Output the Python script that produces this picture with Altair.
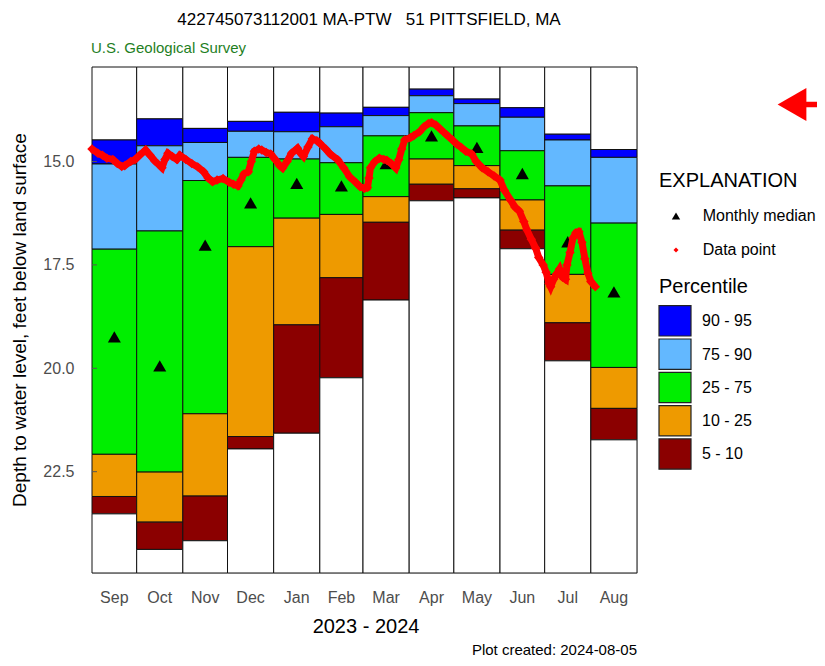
import altair as alt
import pandas as pd

FONT = "Liberation Sans"

# ---------------- data ----------------
months = ["Sep", "Oct", "Nov", "Dec", "Jan", "Feb", "Mar", "Apr", "May", "Jun", "Jul", "Aug"]
# days since 2023-09-01
month_start = [0, 30, 61, 91, 122, 153, 182, 213, 243, 274, 304, 335]
month_end = [30, 61, 91, 122, 153, 182, 213, 243, 274, 304, 335, 366]

# percentile depths (feet below land surface)
p95 = [14.48, 13.97, 14.20, 14.03, 13.81, 13.83, 13.69, 13.25, 13.49, 13.70, 14.34, 14.71]
p90 = [15.06, 14.62, 14.54, 14.27, 14.28, 14.16, 13.89, 13.41, 13.60, 13.93, 14.48, 14.90]
p75 = [17.12, 16.68, 15.46, 14.90, 14.94, 15.03, 14.38, 13.82, 14.14, 14.74, 15.59, 16.49]
p25 = [22.08, 22.51, 21.10, 17.06, 16.37, 16.28, 15.85, 14.94, 15.10, 15.93, 17.73, 19.98]
p10 = [23.10, 23.72, 23.09, 21.65, 18.95, 17.81, 16.47, 15.55, 15.66, 16.66, 18.90, 20.97]
p05 = [23.52, 24.38, 24.17, 21.95, 21.57, 20.23, 18.35, 15.95, 15.88, 17.11, 19.82, 21.73]
median = [19.24, 19.94, 17.02, 16.00, 15.53, 15.59, 15.05, 14.38, 14.66, 15.29, 16.94, 18.15]

# daily data points (days since 2023-09-01, depth)
point_day = [0, 4, 7, 10, 14, 17, 20, 22, 26, 29, 32, 36, 39, 42, 47, 49, 51, 54, 57, 59,
             63, 67, 71, 75, 78, 81, 84, 88, 92, 95, 98, 100, 102, 105, 107, 109, 112, 114,
             117, 120, 123, 126, 128, 131, 134, 138, 140, 142, 145, 148, 151, 153, 157, 160,
             165, 169, 173, 177, 180, 183, 185, 186, 187, 190, 193, 196, 198, 201, 204, 206,
             208, 210, 214, 216, 220, 223, 226, 228, 231, 234, 238, 242, 245, 248, 251, 255,
             258, 262, 266, 270, 274, 277, 281, 284, 287, 290, 292, 295, 298, 300, 303, 305,
             307, 308, 310, 312, 314, 316, 318, 319, 321, 323, 325, 327, 329, 331, 333, 335, 338]
point_depth = [14.70, 14.80, 14.85, 14.92, 14.95, 15.05, 15.12, 15.10, 15.00, 14.95, 14.85,
               14.72, 14.85, 14.98, 15.15, 14.95, 14.80, 14.88, 14.95, 14.85, 14.95, 15.05,
               15.13, 15.25, 15.40, 15.49, 15.45, 15.41, 15.50, 15.55, 15.59, 15.45, 15.30,
               15.25, 15.00, 14.75, 14.70, 14.72, 14.78, 14.82, 14.95, 15.10, 15.16, 15.00,
               14.80, 14.68, 14.80, 14.88, 14.65, 14.45, 14.50, 14.56, 14.70, 14.82, 14.96,
               15.15, 15.37, 15.50, 15.61, 15.65, 15.63, 15.40, 15.15, 15.00, 14.92, 14.95,
               14.97, 15.05, 15.16, 14.96, 14.70, 14.48, 14.42, 14.38, 14.28, 14.16, 14.08,
               14.06, 14.12, 14.22, 14.35, 14.48, 14.58, 14.66, 14.75, 14.82, 15.00, 15.15,
               15.25, 15.35, 15.45, 15.70, 15.93, 16.10, 16.20, 16.45, 16.65, 16.88, 17.10,
               17.32, 17.50, 17.68, 17.95, 18.03, 17.85, 17.72, 17.60, 17.80, 17.85, 17.50,
               17.20, 16.85, 16.72, 16.70, 16.95, 17.35, 17.70, 17.90, 18.03]

y_ticks = [15.0, 17.5, 20.0, 22.5]
Y_TOP, Y_BOTTOM = 12.715, 24.95
X_START, X_END = 0, 366

band_names = ["above", "90 - 95", "75 - 90", "25 - 75", "10 - 25", "5 - 10", "below"]
band_colors = ["#FFFFFF", "#0000FF", "#63B8FF", "#00EE00", "#EE9A00", "#8B0000", "#FFFFFF"]
legend_bands = ["90 - 95", "75 - 90", "25 - 75", "10 - 25", "5 - 10"]

# ---------------- tables ----------------
rows = []
for i, m in enumerate(months):
    edges = [Y_TOP, p95[i], p90[i], p75[i], p25[i], p10[i], p05[i], Y_BOTTOM]
    for j, b in enumerate(band_names):
        rows.append({"month": m, "start": month_start[i], "end": month_end[i],
                     "top": edges[j], "bottom": edges[j + 1], "band": b})
bars_df = pd.DataFrame(rows)

med_df = pd.DataFrame({"month": months,
                       "mid": [(a + b) / 2 for a, b in zip(month_start, month_end)],
                       "median": median})
pts_df = pd.DataFrame({"day": point_day, "depth": point_depth})
ticks_df = pd.DataFrame({"v": y_ticks})
one = pd.DataFrame({"a": [0]})

xs = alt.Scale(domain=[X_START, X_END], nice=False, zero=False)
ys = alt.Scale(domain=[Y_TOP, Y_BOTTOM], reverse=True, nice=False, zero=False)
band_scale = alt.Scale(domain=band_names, range=band_colors)

bars = alt.Chart(bars_df).mark_rect(stroke="#111111", strokeWidth=1).encode(
    x=alt.X("start:Q", scale=xs, axis=None),
    x2="end:Q",
    y=alt.Y("top:Q", scale=ys,
            axis=alt.Axis(values=y_ticks, format=".1f", ticks=False, domain=False, grid=False,
                          labelFontSize=16, labelColor="#4d4d4d", labelPadding=18,
                          labelFont=FONT, title=None)),
    y2="bottom:Q",
    color=alt.Color("band:N", scale=band_scale, legend=None),
)

tick_rules = alt.Chart(ticks_df).mark_rule(color="#555555", strokeWidth=1).encode(
    x=alt.value(0), x2=alt.value(5), y=alt.Y("v:Q", scale=ys))

line = alt.Chart(pts_df).mark_line(color="#FF0000", strokeWidth=7).encode(
    x=alt.X("day:Q", scale=xs), y=alt.Y("depth:Q", scale=ys))
dots = alt.Chart(pts_df).mark_point(shape="diamond", filled=True, size=90, color="#FF0000",
                                    opacity=1).encode(
    x=alt.X("day:Q", scale=xs), y=alt.Y("depth:Q", scale=ys))

meds = alt.Chart(med_df).mark_point(shape="triangle-up", filled=True, size=170, color="black",
                                    opacity=1).encode(
    x=alt.X("mid:Q", scale=xs), y=alt.Y("median:Q", scale=ys))

month_labels = alt.Chart(med_df).mark_text(fontSize=16, color="#4d4d4d", font=FONT,
                                           baseline="middle").encode(
    x=alt.X("mid:Q", scale=xs), y=alt.value(531), text="month:N")


def label(text, x, y, size, color="black", align="left", angle=0):
    return alt.Chart(one).mark_text(text=text, fontSize=size, color=color, align=align,
                                    baseline="middle", angle=angle, font=FONT).encode(
        x=alt.value(x), y=alt.value(y))


texts = [
    label("422745073112001 MA-PTW\u00a0\u00a0\u00a051 PITTSFIELD, MA", 277, -47, 17, align="center"),
    label("U.S. Geological Survey", -1, -19, 15, color="#1f7f1f"),
    label("Depth to water level, feet below land surface", -72, 253, 19, align="center", angle=270),
    label("2023 - 2024", 274, 560, 20, align="center"),
    label("Plot created: 2024-08-05", 545, 583, 15, align="right"),
    label("EXPLANATION", 567, 114, 20),
    label("Monthly median", 610.7, 149, 16),
    label("Data point", 610.7, 183, 16),
    label("Percentile", 567, 220, 20),
]

leg_marks = [
    alt.Chart(one).mark_point(shape="triangle-up", filled=True, size=70, color="black",
                              opacity=1).encode(x=alt.value(584), y=alt.value(149)),
    alt.Chart(one).mark_point(shape="diamond", filled=True, size=25, color="#FF0000",
                              opacity=1).encode(x=alt.value(584), y=alt.value(183)),
]
for i, b in enumerate(legend_bands):
    col = band_colors[band_names.index(b)]
    y0 = 238.7 + 33.3 * i
    leg_marks.append(alt.Chart(one).mark_rect(fill=col, stroke="#222222", strokeWidth=1.2).encode(
        x=alt.value(567), x2=alt.value(599), y=alt.value(y0), y2=alt.value(y0 + 30.3)))
    texts.append(label(b, 610, y0 + 15.5, 16))

arrow = [
    alt.Chart(one).mark_point(shape="triangle-left", filled=True, size=1100, color="#FF0000",
                              opacity=1).encode(x=alt.value(700), y=alt.value(37.5)),
    alt.Chart(one).mark_rule(color="#FF0000", strokeWidth=5.5).encode(
        x=alt.value(708), x2=alt.value(725), y=alt.value(37.5)),
]

chart = alt.layer(bars, tick_rules, meds, line, dots, month_labels, *texts, *leg_marks, *arrow).properties(
    width=545, height=506,
    padding={"left": 84, "top": 59, "right": 180, "bottom": 85},
    autosize="none",
    background="white",
).configure_view(stroke="#8a8a8a", strokeWidth=1.5).configure(font=FONT)

chart.save("out.html", embed_options={"renderer": "svg", "actions": False})
